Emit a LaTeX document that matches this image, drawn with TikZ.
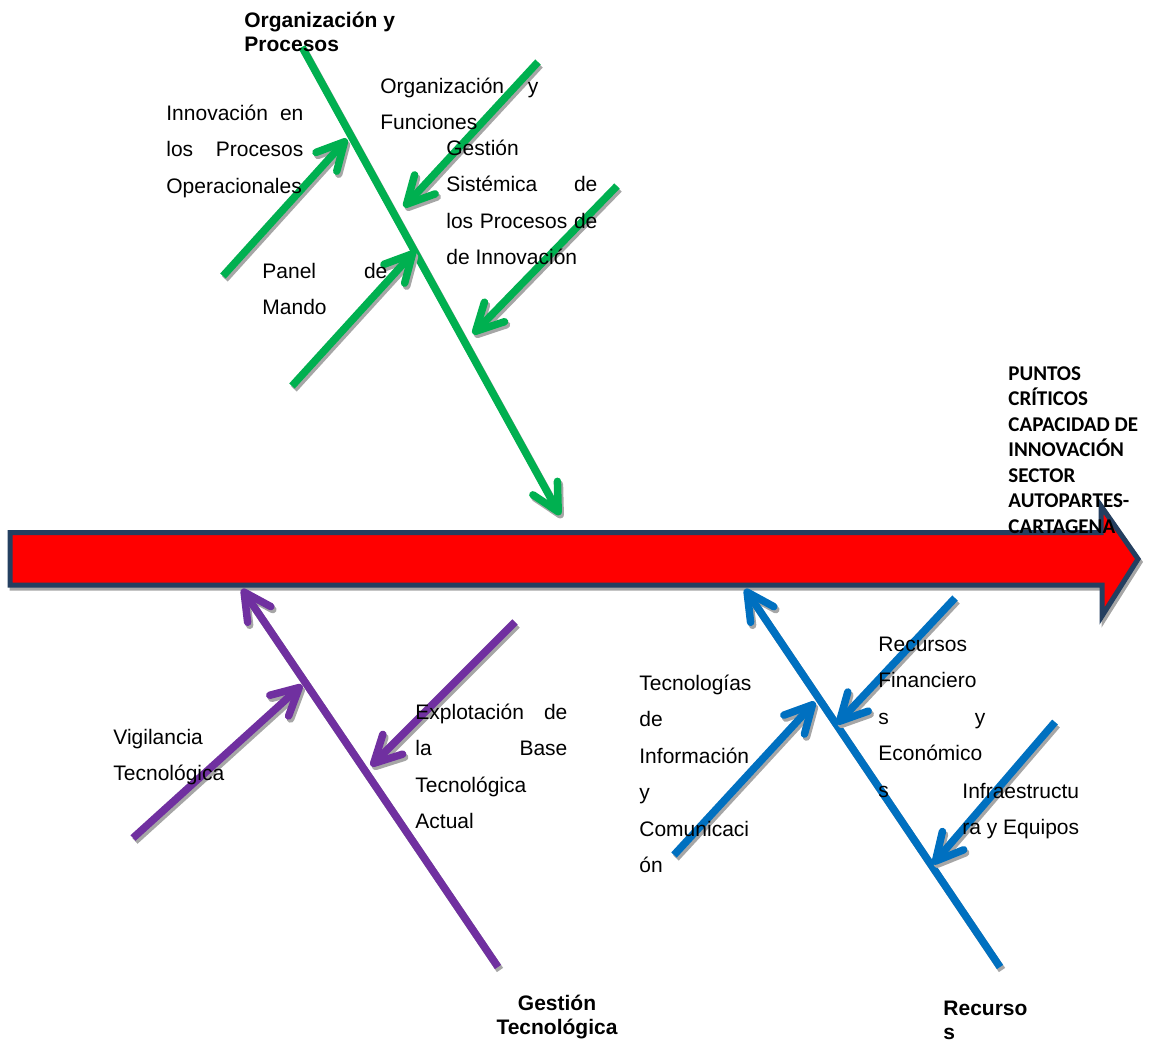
\documentclass[tikz,border=0pt]{standalone}
\usepackage{fontspec}
\setmainfont{Liberation Sans}
\newfontfamily\calibfont{Carlito}
\usetikzlibrary{arrows.meta}

\definecolor{bonegreen}{HTML}{00B050}
\definecolor{bonepurple}{HTML}{7030A0}
\definecolor{boneblue}{HTML}{0070C0}
\definecolor{arrowred}{HTML}{FF0000}
\definecolor{arrownavy}{HTML}{243F60}
\definecolor{shadowgray}{HTML}{A6A6A6}

% one justified line of a given width
\newcommand\jl[2]{\hbox to #1{#2}}
% fixed height for the first line of each label
\newcommand\st{\vrule height 10pt depth 0pt width 0pt}
% a bone with its drop shadow: colour, start, end
\newcommand\bone[3]{%
  \draw[boneshadow] (#2) -- (#3);
  \draw[bone, draw=#1] (#2) -- (#3);}

\begin{document}
\begin{tikzpicture}[x=0.5pt, y=-0.5pt,
  bone/.style={line width=3.75pt, line cap=butt,
    -{Straight Barb[length=13.5pt,width=14pt,round]}},
  boneshadow/.style={bone, draw=shadowgray,
    transform canvas={xshift=1pt,yshift=-1.5pt}},
  body/.style={font=\fontsize{10.5}{18.25}\selectfont, inner sep=0pt,
    anchor=north west, align=left},
  head/.style={font=\fontsize{10.5}{12}\selectfont\bfseries, inner sep=0pt,
    align=left},
  effect/.style={font=\fontsize{10.5}{12.75}\selectfont\calibfont\bfseries,
    inner sep=0pt, anchor=north west, align=left}]

\useasboundingbox (0,0) rectangle (1155,1042);

% main arrow (effect line)
\draw[draw=shadowgray, fill=shadowgray, line width=2.5pt,
  transform canvas={xshift=1pt,yshift=-1.5pt}]
  (10,532.5) -- (1101,532.5) -- (1101,506) -- (1138,559) -- (1102,616)
  -- (1102,585) -- (10,585) -- cycle;
\draw[draw=arrownavy, fill=arrowred, line width=2.5pt, line join=miter]
  (10,532.5) -- (1101,532.5) -- (1101,506) -- (1138,559) -- (1102,616)
  -- (1102,585) -- (10,585) -- cycle;

% end points of the bones
\coordinate (gS0) at (302,47);   \coordinate (gS1) at (560,515);
\coordinate (gA0) at (223,276);  \coordinate (gA1) at (347,139);
\coordinate (gB0) at (538,62);   \coordinate (gB1) at (404,207);
\coordinate (gC0) at (292,386);  \coordinate (gC1) at (415,251);
\coordinate (gD0) at (617,186);  \coordinate (gD1) at (473,334);

\coordinate (pS0) at (498,967);  \coordinate (pS1) at (242,589);
\coordinate (pA0) at (133,838);  \coordinate (pA1) at (302,685);
\coordinate (pB0) at (515,622);  \coordinate (pB1) at (371,766);

\coordinate (bS0) at (1000,967); \coordinate (bS1) at (745,589);
\coordinate (bA0) at (674,855);  \coordinate (bA1) at (815,702);
\coordinate (bB0) at (955,598);  \coordinate (bB1) at (837,724);
\coordinate (bC0) at (1055,722); \coordinate (bC1) at (933,864);

% Organización y Procesos
\bone{bonegreen}{gS0}{gS1}
\bone{bonegreen}{gA0}{gA1}
\bone{bonegreen}{gB0}{gB1}
\bone{bonegreen}{gC0}{gC1}
\bone{bonegreen}{gD0}{gD1}

% Gestión Tecnológica
\bone{bonepurple}{pS0}{pS1}
\bone{bonepurple}{pA0}{pA1}
\bone{bonepurple}{pB0}{pB1}

% Recursos
\bone{boneblue}{bS0}{bS1}
\bone{boneblue}{bA0}{bA1}
\bone{boneblue}{bB0}{bB1}
\bone{boneblue}{bC0}{bC1}

% labels
\node[head, anchor=north west] (orgtitle) at (244,7) {\st Organización y\\Procesos};
\node[body] (innov) at (166,100)
  {\st\jl{68.5pt}{Innovación en}\\\jl{68.5pt}{los Procesos}\\Operacionales};
\node[body] (orgfun) at (380,73) {\st\jl{79pt}{Organización y}\\Funciones};
\node[body] (gestsis) at (446,135)
  {\st Gestión\\\jl{75.5pt}{Sistémica de}\\\jl{75.5pt}{los Procesos de}\\de Innovación};
\node[body] (panel) at (262,258) {\st\jl{62.5pt}{Panel de}\\Mando};

\node[effect] (puntos) at (1008,360)
  {\st PUNTOS\\CRÍTICOS\\CAPACIDAD DE\\INNOVACIÓN\\SECTOR\\AUTOPARTES-\\CARTAGENA};

\node[body] (vigil) at (113,724) {\st Vigilancia\\Tecnológica};
\node[body] (explot) at (415,699)
  {\st\jl{76pt}{Explotación de}\\\jl{76pt}{la Base}\\Tecnológica\\Actual};
\node[head, anchor=north, align=center] (gestec) at (557,990) {\st Gestión\\Tecnológica};

\node[body] (tic) at (639,670)
  {\st Tecnologías\\de\\Información\\y\\Comunicaci\\ón};
\node[body] (recfin) at (878,631)
  {\st Recursos\\Financiero\\\jl{53.5pt}{s y}\\Económico\\s};
\node[body] (infra) at (962,778) {\st Infraestructu\\ra y Equipos};
\node[head, anchor=north west] (recursos) at (943,995) {\st Recurso\\s};

\end{tikzpicture}
\end{document}
